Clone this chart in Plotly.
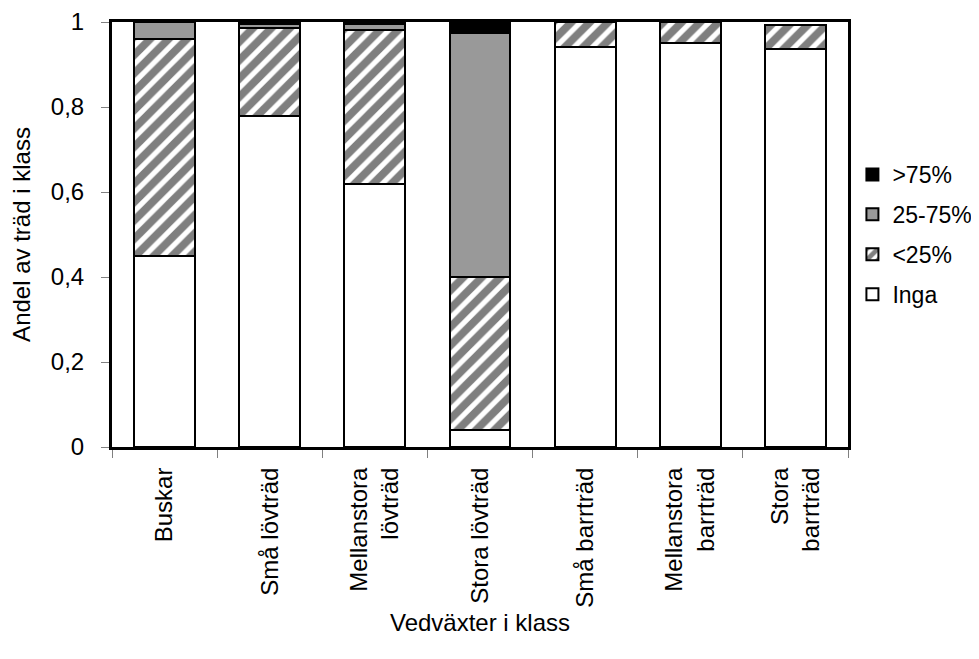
import plotly.graph_objects as go

categories = ["Buskar", "Små lövträd", "Mellanstora<br>lövträd", "Stora lövträd",
              "Små barrträd", "Mellanstora<br>barrträd", "Stora<br>barrträd"]
inga = [0.45, 0.78, 0.62, 0.04, 0.942, 0.951, 0.936]
under25 = [0.51, 0.205, 0.362, 0.36, 0.058, 0.049, 0.058]
mid25_75 = [0.04, 0.01, 0.013, 0.575, 0.0, 0.0, 0.0]
over75 = [0.0, 0.005, 0.005, 0.025, 0.0, 0.0, 0.0]
ytick_vals = [0, 0.2, 0.4, 0.6, 0.8, 1]
ytick_text = ["0", "0,2", "0,4", "0,6", "0,8", "1"]

FONT = "Liberation Sans, Arial, sans-serif"
FS = 24
line = dict(color="black", width=2)

fig = go.Figure()
fig.add_trace(go.Bar(x=categories, y=inga, name="Inga", legendgroup="g4", legendrank=4,
                     marker=dict(color="white", line=line)))
fig.add_trace(go.Bar(x=categories, y=under25, name="<25%", legendgroup="g3", legendrank=3,
                     marker=dict(color="white", line=line,
                                 pattern=dict(shape="/", fgcolor="black", bgcolor="white",
                                              size=13, solidity=0.6))))
fig.add_trace(go.Bar(x=categories, y=mid25_75, name="25-75%", legendgroup="g2", legendrank=2,
                     marker=dict(color="#999999", line=line)))
fig.add_trace(go.Bar(x=categories, y=over75, name=">75%", legendgroup="g1", legendrank=1,
                     marker=dict(color="black", line=line)))

fig.update_layout(
    barmode="stack",
    bargap=0.42,
    width=971, height=651,
    margin=dict(l=104, r=131, t=14, b=212, autoexpand=False),
    paper_bgcolor="white", plot_bgcolor="white",
    font=dict(family=FONT, size=FS, color="black"),
    showlegend=True,
    legend=dict(x=1.006, xanchor="left", y=0.5, yanchor="middle",
                traceorder="grouped", tracegroupgap=7,
                font=dict(size=23), bgcolor="rgba(0,0,0,0)"),
)
fig.update_xaxes(
    type="category", tickson="boundaries", ticks="outside", ticklen=8,
    tickcolor="#808080", tickwidth=1, tickangle=-90, automargin=False,
    ticklabelstandoff=8,
    showline=True, linecolor="black", linewidth=3, mirror=True,
    showgrid=False,
    title=dict(text="Vedväxter i klass", standoff=8, font=dict(size=FS)),
)
fig.update_yaxes(
    range=[0, 1], tickvals=ytick_vals, ticktext=ytick_text,
    ticks="outside", ticklen=8, tickcolor="#808080", tickwidth=1,
    ticklabelstandoff=12, automargin=False,
    showline=True, linecolor="black", linewidth=3, mirror=True,
    showgrid=False, zeroline=False,
    title=dict(text="Andel av träd i klass", standoff=20, font=dict(size=FS)),
)

fig.write_html("out.html")
